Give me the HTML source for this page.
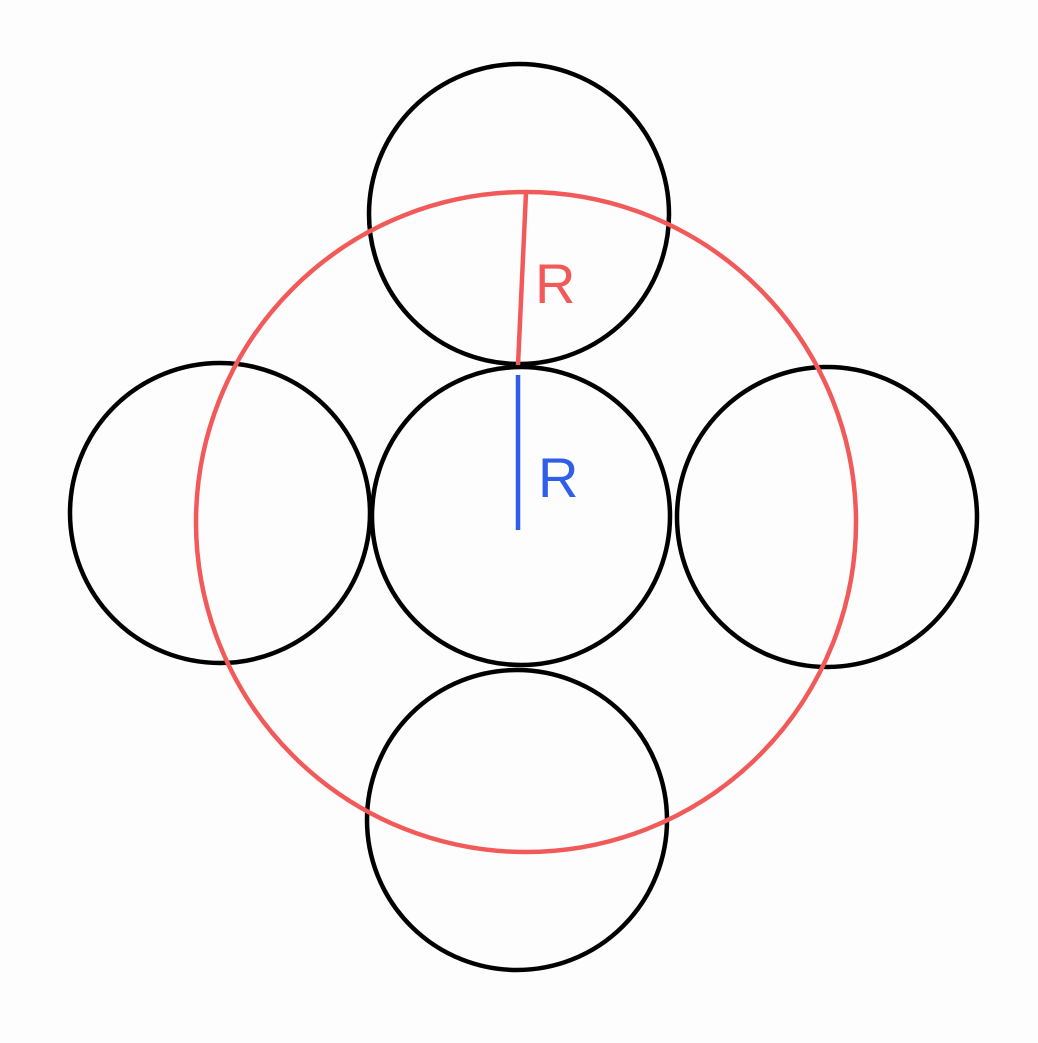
<!DOCTYPE html>
<html><head><style>html,body{margin:0;padding:0;background:#fdfdfd}</style></head>
<body>
<svg width="1038" height="1038" viewBox="0 0 1038 1038" xmlns="http://www.w3.org/2000/svg">
<rect width="1038" height="1038" fill="#fdfdfd"/>
<g fill="none" stroke="#000" stroke-width="4.5">
<circle cx="519" cy="214" r="150"/>
<circle cx="220" cy="513" r="150"/>
<circle cx="521" cy="516" r="149"/>
<circle cx="827" cy="517" r="150"/>
<circle cx="517" cy="820" r="150"/>
</g>
<circle cx="526" cy="522" r="330" fill="none" stroke="#f25a5a" stroke-width="4.5"/>
<line x1="526" y1="193" x2="518" y2="365" stroke="#f25a5a" stroke-width="4.5"/>
<line x1="518" y1="375" x2="518" y2="530" stroke="#2f5ee8" stroke-width="4.5"/>
<text x="535" y="303" font-family="Liberation Sans, sans-serif" font-size="56" fill="#f25a5a">R</text>
<text x="538" y="497" font-family="Liberation Sans, sans-serif" font-size="56" fill="#2f5ee8">R</text>
</svg>
</body></html>
